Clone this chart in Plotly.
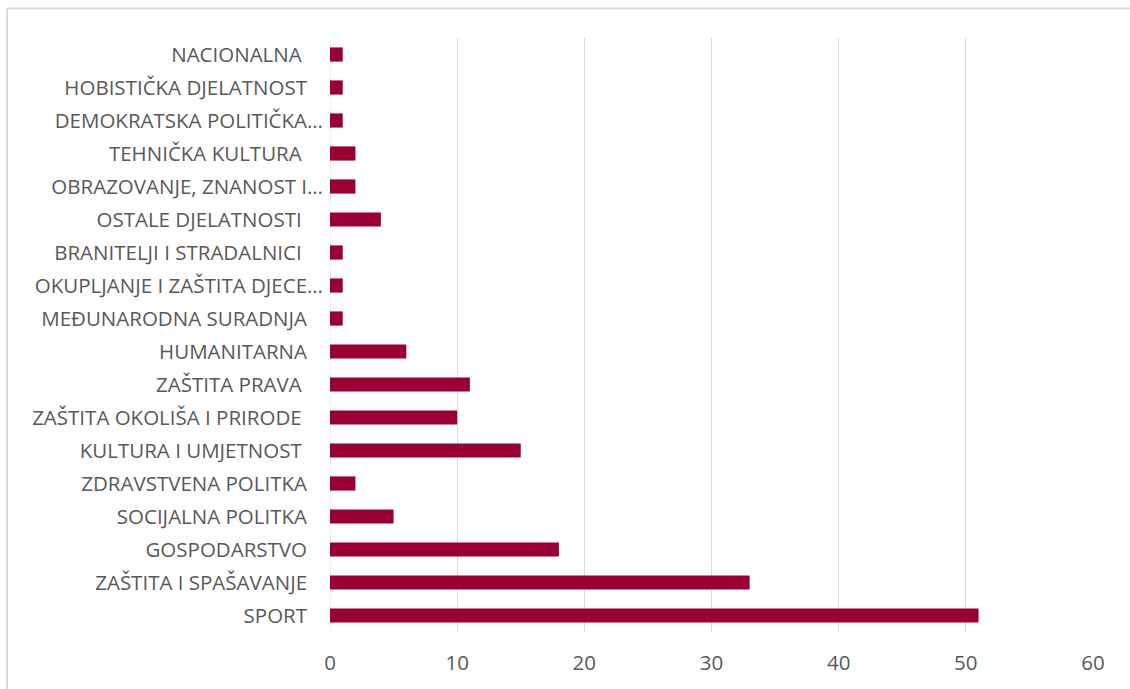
"""Horizontal bar chart: associations by field of activity."""

import plotly.graph_objects as go

# Categories, bottom to top as drawn
categories = [
    "SPORT",
    "ZAŠTITA I SPAŠAVANJE",
    "GOSPODARSTVO",
    "SOCIJALNA POLITKA",
    "ZDRAVSTVENA POLITKA",
    "KULTURA I UMJETNOST ",
    "ZAŠTITA OKOLIŠA I PRIRODE ",
    "ZAŠTITA PRAVA ",
    "HUMANITARNA",
    "MEĐUNARODNA SURADNJA",
    "OKUPLJANJE I ZAŠTITA DJECE…",
    "BRANITELJI I STRADALNICI ",
    "OSTALE DJELATNOSTI ",
    "OBRAZOVANJE, ZNANOST I…",
    "TEHNIČKA KULTURA ",
    "DEMOKRATSKA POLITIČKA…",
    "HOBISTIČKA DJELATNOST",
    "NACIONALNA ",
]
counts = [51, 33, 18, 5, 2, 15, 10, 11, 6, 1, 1, 1, 4, 2, 2, 1, 1, 1]
x_ticks = [0, 10, 20, 30, 40, 50, 60]

BAR_COLOR = "#990033"
TEXT_COLOR = "#595959"
GRID_COLOR = "#d9d9d9"
FONT = "Open Sans"
FONT_SIZE = 20.5

# Excel leaves a gap after untruncated labels; truncated ones ("…") sit closer.
def pad(label):
    if label.endswith("…"):
        return label
    trailing = label.endswith(" ")
    return label.rstrip() + "\u00a0" * (4 if trailing else 3)

labels = [pad(c) for c in categories]

fig = go.Figure()
fig.add_trace(
    go.Bar(
        y=labels,
        x=counts,
        orientation="h",
        marker_color=BAR_COLOR,
        marker_line_width=0,
        hovertemplate="<b>%{y}</b><br>%{x}<extra></extra>",
    )
)

fig.update_layout(
    width=1130,
    height=689,
    margin={"l": 330, "r": 37, "t": 38, "b": 57},
    paper_bgcolor="white",
    plot_bgcolor="white",
    font={"family": FONT, "color": TEXT_COLOR, "size": FONT_SIZE},
    bargap=0.57,
    showlegend=False,
    xaxis={
        "range": [0, 60],
        "tickvals": x_ticks,
        "showgrid": True,
        "gridcolor": GRID_COLOR,
        "gridwidth": 1,
        "zeroline": False,
        "showline": False,
        "ticks": "",
        "tickfont": {"size": FONT_SIZE, "color": TEXT_COLOR},
        "ticklabelstandoff": 16,
    },
    yaxis={
        "categoryorder": "array",
        "categoryarray": labels,
        "showgrid": False,
        "zeroline": False,
        "showline": False,
        "ticks": "",
        "tickfont": {"size": FONT_SIZE, "color": TEXT_COLOR},
        "ticklabelstandoff": 6,
    },
)

# Zero line drawn as a gridline-coloured vertical rule
fig.add_shape(
    type="line",
    xref="x",
    yref="paper",
    x0=0,
    x1=0,
    y0=0,
    y1=1,
    line={"color": GRID_COLOR, "width": 1},
    layer="below",
)

# Chart-area border: only its left and top edges fall inside the crop
left = (7 - 330) / 763
top = (632 - 8.5) / 594
border = {"color": GRID_COLOR, "width": 2}
fig.add_shape(type="line", xref="paper", yref="paper",
              x0=left, x1=left, y0=-0.5, y1=top, line=border, layer="below")
fig.add_shape(type="line", xref="paper", yref="paper",
              x0=left, x1=1.5, y0=top, y1=top, line=border, layer="below")

# Drop the default page margin so the figure sits at the window's corner
fig.write_html(
    "out.html",
    config={"displayModeBar": False},
    post_script="document.body.style.margin = '0';",
)
